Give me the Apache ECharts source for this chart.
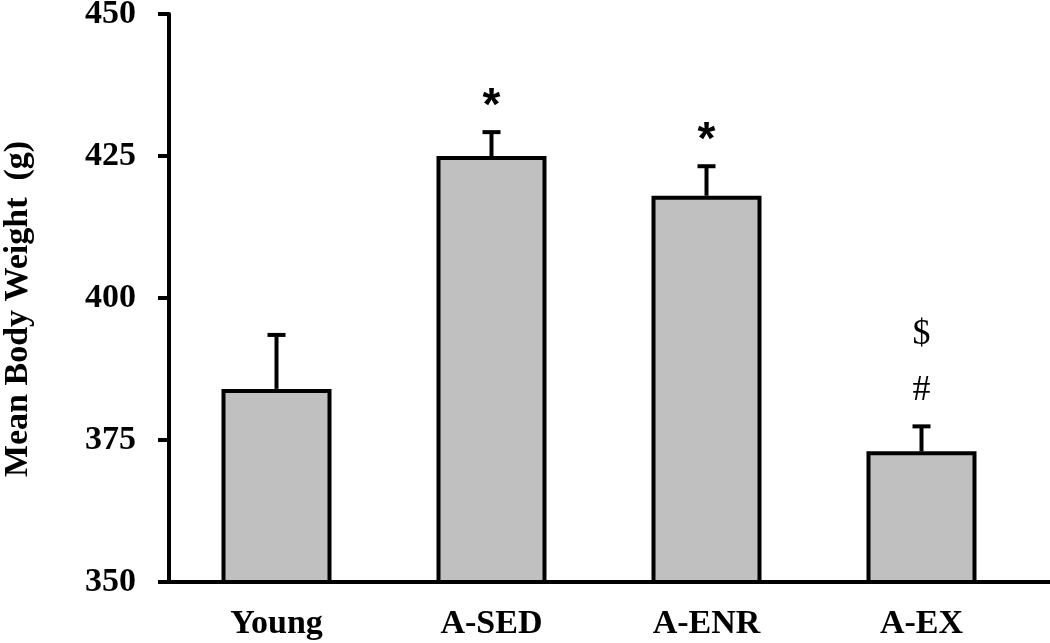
<!DOCTYPE html>
<html>
<head>
<meta charset="utf-8">
<script src="https://cdn.jsdelivr.net/npm/echarts@6/dist/echarts.min.js"></script>
<style>
  html, body { margin: 0; padding: 0; background: #ffffff; }
  #chart { width: 1050px; height: 643px; }
</style>
</head>
<body>
<div id="chart"></div>
<script>
// ---- data ----
const categories = ['Young', 'A-SED', 'A-ENR', 'A-EX'];
const means = [384, 425, 418, 373];
const errors = [9.5, 4.2, 5.2, 4.4];
const marksNear = ['', '*', '*', '#'];
const marksFar = ['', '', '', '$'];
const yMin = 350, yMax = 450, yStep = 25;
const yName = 'Mean Body Weight  (g)';

const serif = '"Liberation Serif", "Times New Roman", serif';

const chart = echarts.init(document.getElementById('chart'), null, { renderer: 'canvas' });

const errData = categories.map((c, i) => [i, means[i], errors[i], marksNear[i], marksFar[i]]);

const option = {
  backgroundColor: '#ffffff',
  animation: false,
  grid: { left: 169, right: 21, top: 14, bottom: 61, containLabel: false, outerBoundsMode: 'none' },
  xAxis: {
    type: 'category',
    data: categories,
    axisLine: { show: true, lineStyle: { color: '#000', width: 4 } },
    axisTick: { show: false },
    axisLabel: {
      color: '#000', fontFamily: serif, fontWeight: 'bold', fontSize: 34, margin: 25
    }
  },
  yAxis: {
    type: 'value',
    min: yMin, max: yMax, interval: yStep,
    name: yName,
    nameLocation: 'middle',
    nameGap: 134,
    nameRotate: 90,
    nameTextStyle: { color: '#000', fontFamily: serif, fontWeight: 'bold', fontSize: 34, padding: [0, 22, 0, 0] },
    axisLine: { show: true, lineStyle: { color: '#000', width: 4 } },
    axisTick: { show: true, inside: false, length: 11, lineStyle: { color: '#000', width: 4 } },
    axisLabel: { color: '#000', fontFamily: serif, fontWeight: 'bold', fontSize: 34, margin: 33 },
    splitLine: { show: false }
  },
  series: [
    {
      type: 'bar',
      data: means,
      barWidth: 110,
      itemStyle: { color: '#c0c0c0', borderColor: '#000', borderWidth: 4 },
      z: 2
    },
    {
      type: 'custom',
      data: errData,
      z: 3,
      renderItem: function (params, api) {
        const i = api.value(0);
        const m = api.value(1);
        const e = api.value(2);
        const top = api.coord([i, m + e]);
        const base = api.coord([i, m]);
        const capHalf = 9;
        const near = errData[params.dataIndex][3];
        const far = errData[params.dataIndex][4];
        const children = [
          { type: 'line', shape: { x1: base[0], y1: base[1], x2: top[0], y2: top[1] },
            style: { stroke: '#000', lineWidth: 4 } },
          { type: 'line', shape: { x1: top[0] - capHalf, y1: top[1], x2: top[0] + capHalf, y2: top[1] },
            style: { stroke: '#000', lineWidth: 4 } }
        ];
        if (near === '*') {
          children.push({ type: 'text', x: top[0], y: top[1] - 25,
            style: { text: '*', fill: '#000', font: 'bold 46px "Liberation Sans", Arial, sans-serif',
              align: 'center', verticalAlign: 'middle' } });
        } else if (near) {
          children.push({ type: 'text', x: top[0], y: top[1] - 36,
            style: { text: near, fill: '#000', font: '36px ' + serif, align: 'center', verticalAlign: 'middle' } });
        }
        if (far) {
          children.push({ type: 'text', x: top[0], y: top[1] - 92,
            style: { text: far, fill: '#000', font: '36px ' + serif, align: 'center', verticalAlign: 'middle' } });
        }
        return { type: 'group', children: children };
      }
    }
  ]
};

chart.setOption(option);

// extend the baseline to the right edge, as in the original
const baseY = chart.convertToPixel({ yAxisIndex: 0 }, yMin);
const gridRight = chart.getWidth() - option.grid.right;
chart.setOption({
  graphic: [{
    type: 'line', shape: { x1: gridRight - 2, y1: baseY, x2: chart.getWidth(), y2: baseY },
    style: { stroke: '#000', lineWidth: 4 }, z: 10
  }]
});
</script>
</body>
</html>
